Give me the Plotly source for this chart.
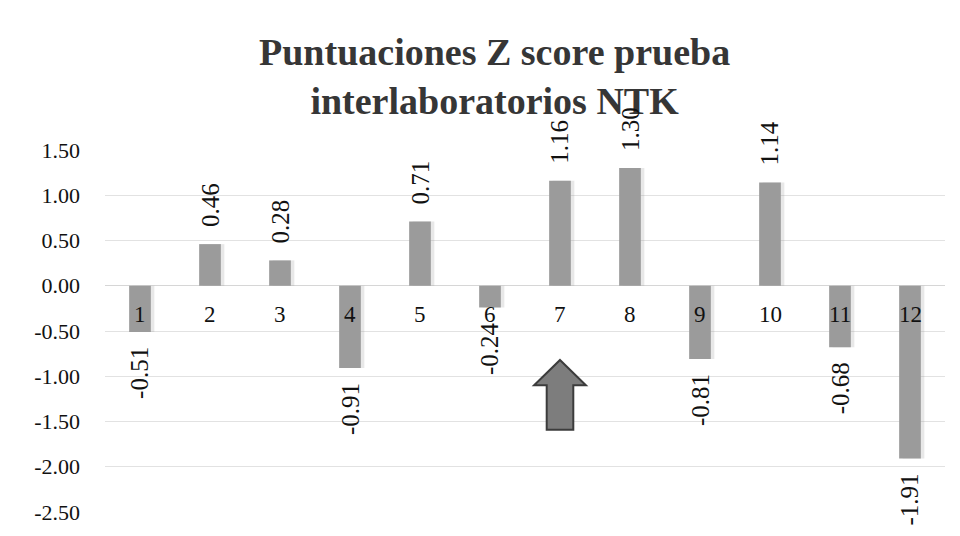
import plotly.graph_objects as go

labs = [1, 2, 3, 4, 5, 6, 7, 8, 9, 10, 11, 12]
zscores = [-0.51, 0.46, 0.28, -0.91, 0.71, -0.24, 1.16, 1.30, -0.81, 1.14, -0.68, -1.91]
ytick_vals = [1.5, 1.0, 0.5, 0.0, -0.5, -1.0, -1.5, -2.0, -2.5]
title_text = "Puntuaciones Z score prueba<br>interlaboratorios NTK"

# arrow marker position (data units) under lab 7
arrow_lab = 7
arrow_tip, arrow_neck, arrow_base = -0.82, -1.10, -1.59
arrow_head_half, arrow_shaft_half = 0.37, 0.19

SERIF = "Liberation Serif, DejaVu Serif, serif"

fig = go.Figure()
# soft shadow
fig.add_trace(go.Bar(
    x=[l + 0.05 for l in labs], y=zscores, width=0.31,
    marker=dict(color="rgba(150,150,150,0.22)", line=dict(width=0)),
    hoverinfo="skip", showlegend=False,
))
fig.add_trace(go.Bar(
    x=labs, y=zscores, width=0.31,
    marker=dict(color="#9b9b9b", line=dict(width=0)),
    showlegend=False,
))

annotations = [dict(
    x=0.464, y=1, xref="paper", yref="paper", text=title_text, showarrow=False,
    xanchor="center", yanchor="bottom", yshift=26,
    font=dict(family=SERIF, size=38, color="#363636", weight="bold"),
)]
for l, v in zip(labs, zscores):
    # category label next to the zero axis
    annotations.append(dict(
        x=l, y=0, xref="x", yref="y", text=str(l), showarrow=False,
        yanchor="top", yshift=-14,
        font=dict(family=SERIF, size=23, color="#111"),
    ))
    # value label, rotated
    annotations.append(dict(
        x=l, y=v, xref="x", yref="y", text=f"{v:.2f}", showarrow=False,
        textangle=-90,
        yanchor="bottom" if v >= 0 else "top",
        yshift=15 if v >= 0 else -13,
        font=dict(family=SERIF, size=25, color="#111"),
    ))

ax = arrow_lab
path = (f"M {ax} {arrow_tip} L {ax + arrow_head_half} {arrow_neck} "
        f"L {ax + arrow_shaft_half} {arrow_neck} L {ax + arrow_shaft_half} {arrow_base} "
        f"L {ax - arrow_shaft_half} {arrow_base} L {ax - arrow_shaft_half} {arrow_neck} "
        f"L {ax - arrow_head_half} {arrow_neck} Z")

fig.update_layout(
    width=960, height=536,
    paper_bgcolor="white", plot_bgcolor="white",
    margin=dict(l=105, r=15, t=150, b=24),
    barmode="overlay",
    xaxis=dict(range=[0.5, 12.5], showticklabels=False, showgrid=False,
               zeroline=False, showline=False, fixedrange=True),
    yaxis=dict(range=[-2.5, 1.5], tickvals=ytick_vals,
               ticktext=[f"{t:.2f}" for t in ytick_vals],
               showgrid=True, gridcolor="#e2e2e2", gridwidth=1,
               zeroline=True, zerolinecolor="#d6d6d6", zerolinewidth=1,
               showline=False, ticks="", ticklabelstandoff=24,
               tickfont=dict(family=SERIF, size=22, color="#111")),
    annotations=annotations,
    shapes=[dict(type="path", path=path, xref="x", yref="y",
                 fillcolor="#7d7d7d", line=dict(color="#3c3c3c", width=2))],
)

fig.write_html("out.html", config={"displayModeBar": False},
               post_script="document.body.style.margin='0';")
